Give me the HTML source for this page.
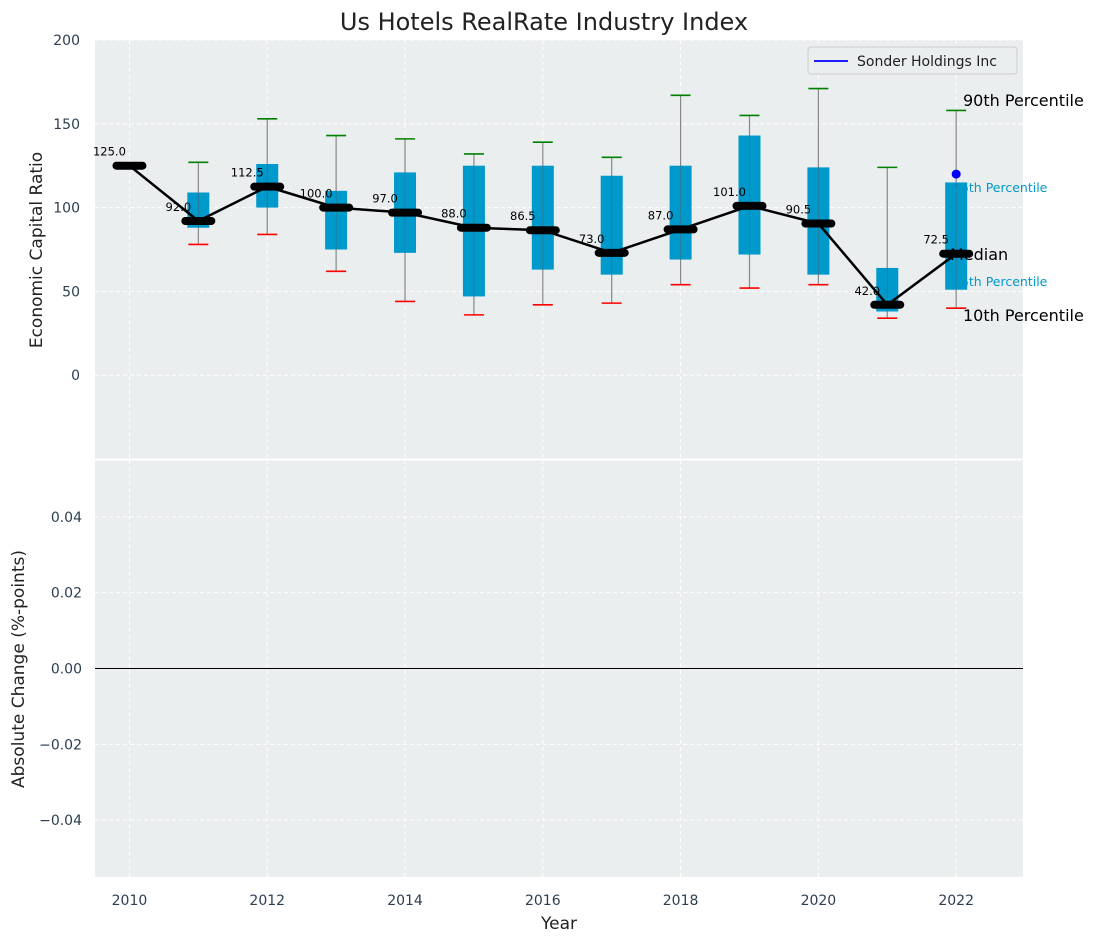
<!DOCTYPE html>
<html><head><meta charset="utf-8"><style>
body{margin:0;background:#fff;font-family:"Liberation Sans","DejaVu Sans",sans-serif}
svg text{font-family:"DejaVu Sans","Liberation Sans",sans-serif}
</style></head><body>
<svg id="c" width="1098" height="942" xmlns="http://www.w3.org/2000/svg"></svg>
<script>
const years=[2010,2011,2012,2013,2014,2015,2016,2017,2018,2019,2020,2021,2022];
const medians=[125,92,112.5,100,97,88,86.5,73,87,101,90.5,42,72.5];
const p25=[null,88,100,75,73,47,63,60,69,72,60,38,51];
const p75=[null,109,126,110,121,125,125,119,125,143,124,64,115];
const p10=[null,78,84,62,44,36,42,43,54,52,54,34,40];
const p90=[null,127,153,143,141,132,139,130,167,155,171,124,158];
const companyYear=[2022];const companyValue=[120];
const topTicks=[0,50,100,150,200];
const botTicks=[-0.04,-0.02,0,0.02,0.04];
const xTicks=[2010,2012,2014,2016,2018,2020,2022];

const svg=document.getElementById('c');const NS='http://www.w3.org/2000/svg';
function el(t,a,p){const e=document.createElementNS(NS,t);for(const k in a)e.setAttribute(k,a[k]);(p||svg).appendChild(e);return e;}
const L=95,R=1023;
const X=v=>L+(v-2009.5)/(2022.97-2009.5)*(R-L);
const T0=40,T1=459,Y=v=>T0+(200-v)/250*(T1-T0);
const B0=460,B1=877,YB=v=>B0+(0.055-v)/0.11*(B1-B0);
const g=el('g',{});

el('rect',{x:L,y:T0,width:R-L,height:T1-T0,fill:'#eaeeef'},g);
const g2=el('g',{});

el('rect',{x:L,y:B0,width:R-L,height:B1-B0,fill:'#eaeeef'},g2);
xTicks.forEach(t=>{[[T0,T1,g],[B0,B1,g2]].forEach(([a,b,p])=>el('line',{x1:X(t),x2:X(t),y1:a,y2:b,stroke:'#fff','stroke-dasharray':'4,3','stroke-width':1},p));
 const tx=el('text',{x:X(t),y:905,'text-anchor':'middle','font-size':14,fill:'#2c3e50'});tx.textContent=t;
 });
topTicks.forEach(t=>{el('line',{x1:L,x2:R,y1:Y(t),y2:Y(t),stroke:'#fff','stroke-dasharray':'4,3'},g);
 const tx=el('text',{x:80,y:Y(t)+5,'text-anchor':'end','font-size':14,fill:'#2c3e50'});tx.textContent=t;
 });
botTicks.forEach(t=>{el('line',{x1:L,x2:R,y1:YB(t),y2:YB(t),stroke:'#fff','stroke-dasharray':'4,3'},g2);
 const tx=el('text',{x:82,y:YB(t)+5,'text-anchor':'end','font-size':14,fill:'#2c3e50'});tx.textContent=(t<0?'\u2212':'')+Math.abs(t).toFixed(2);
 });
el('line',{x1:L,x2:R,y1:YB(0),y2:YB(0),stroke:'#000','stroke-width':1},g2);
el('line',{x1:L,x2:R,y1:459.5,y2:459.5,stroke:'#fff','stroke-width':2});
[[963,106,'90th Percentile','#000',16],[953,192,'75th Percentile','#0099cc',12.5],[950,260,'Median','#000',16],[953,286,'25th Percentile','#0099cc',12.5],[963,321,'10th Percentile','#000',16]].forEach(a=>{
 const t=el('text',{x:a[0],y:a[1],'font-size':a[4],fill:a[3]});t.textContent=a[2];
 });
years.forEach((y,i)=>{
 if(p10[i]!=null){
  const w=el('line',{x1:X(y),x2:X(y),y1:Y(p10[i]),y2:Y(p90[i]),stroke:'#888','stroke-width':1.2},g);
  
  const b=el('rect',{x:X(y)-11,y:Y(p75[i]),width:22,height:Y(p25[i])-Y(p75[i]),fill:'#0099cc'},g);
  
  el('line',{x1:X(y),x2:X(y),y1:Y(p25[i]),y2:Y(p75[i]),stroke:'#555','stroke-width':0.8,opacity:0.5},g);
  const c1=el('line',{x1:X(y)-10,x2:X(y)+10,y1:Y(p90[i]),y2:Y(p90[i]),stroke:'green','stroke-width':1.6},g);
  
  const c2=el('line',{x1:X(y)-10,x2:X(y)+10,y1:Y(p10[i]),y2:Y(p10[i]),stroke:'red','stroke-width':1.6},g);
  
 }});
const pl=el('polyline',{points:years.map((y,i)=>X(y)+','+Y(medians[i])).join(' '),fill:'none',stroke:'#000','stroke-width':2.5},g);

years.forEach((y,i)=>{
 const m=el('line',{x1:X(y)-13,x2:X(y)+13,y1:Y(medians[i]),y2:Y(medians[i]),stroke:'#000','stroke-width':8,'stroke-linecap':'round'},g);
 
 const t=el('text',{x:X(y)-20,y:Y(medians[i])-10,'text-anchor':'middle','font-size':11.5,fill:'#000'},g);t.textContent=medians[i].toFixed(1);
 
});
companyYear.forEach((y,i)=>{const d=el('circle',{cx:X(y),cy:Y(companyValue[i]),r:4.5,fill:'blue'},g);
 });
const lg=el('g',{});
el('rect',{x:808,y:47,width:209,height:27,rx:3,fill:'#eaeeef',stroke:'#ccc'},lg);
el('line',{x1:814,x2:848,y1:61,y2:61,stroke:'blue','stroke-width':1.8},lg);
const lt=el('text',{x:857,y:66,'font-size':14,fill:'#222'},lg);lt.textContent='Sonder Holdings Inc';
const tt=el('text',{x:544,y:30,'text-anchor':'middle','font-size':24,fill:'#222'});tt.textContent='Us Hotels RealRate Industry Index';

const xl=el('text',{x:559,y:929,'text-anchor':'middle','font-size':17,fill:'#222'});xl.textContent='Year';

const y1=el('text',{x:42,y:250,'text-anchor':'middle','font-size':17,fill:'#222',transform:'rotate(-90 42 250)'});y1.textContent='Economic Capital Ratio';

const y2=el('text',{x:24,y:669,'text-anchor':'middle','font-size':17,fill:'#222',transform:'rotate(-90 24 669)'});y2.textContent='Absolute Change (%-points)';

</script>
</body></html>
